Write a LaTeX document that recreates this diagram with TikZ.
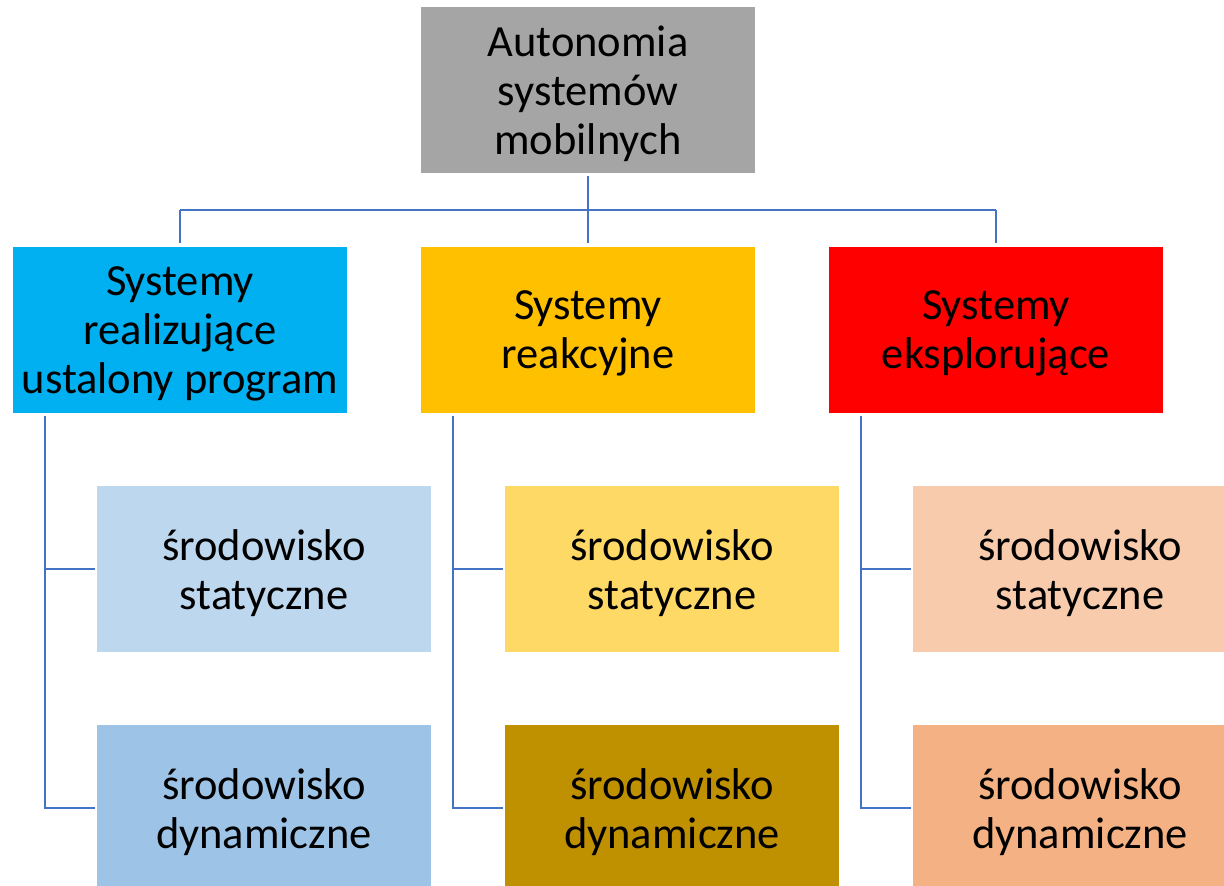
\documentclass[tikz,border=0pt]{standalone}
\usepackage{fontspec}
\setmainfont{Carlito}
\begin{document}
\begin{tikzpicture}[x=1pt,y=-1pt,
  boxtext/.style={inner sep=0pt,align=center,
    font=\fontsize{44.5}{49}\selectfont,text=black,yshift=-4pt},
  box/.style={minimum width=334pt,minimum height=166pt,inner sep=0pt,
    label={[boxtext]center:{#1}}},
  conn/.style={draw=linkblue,line width=2.6pt}]
\definecolor{linkblue}{HTML}{4472C4}
\definecolor{cgray}{HTML}{A5A5A5}
\definecolor{cblue}{HTML}{00B0F0}
\definecolor{corange}{HTML}{FFC000}
\definecolor{cred}{HTML}{FF0000}
\definecolor{cblueA}{HTML}{BDD7EE}
\definecolor{cblueB}{HTML}{9DC3E6}
\definecolor{cgoldA}{HTML}{FFD966}
\definecolor{cgoldB}{HTML}{BF9000}
\definecolor{cpeachA}{HTML}{F8CBAD}
\definecolor{cpeachB}{HTML}{F4B183}
\useasboundingbox (0,0) rectangle (1224,886);
\clip (0,0) rectangle (1224,886);

% root
\node[box={Autonomia\\systemów\\mobilnych},fill=cgray] (root) at (588,90) {};

% second level
\node[box={Systemy\\realizujące\\ustalony program},fill=cblue] (s1) at (180,329.5) {};
\node[box={Systemy\\reakcyjne},fill=corange] (s2) at (588,329.5) {};
\node[box={Systemy\\eksplorujące},fill=cred] (s3) at (996,329.5) {};

% third level
\node[box={środowisko\\statyczne},fill=cblueA]   (a1) at (264,569) {};
\node[box={środowisko\\dynamiczne},fill=cblueB]  (b1) at (264,808) {};
\node[box={środowisko\\statyczne},fill=cgoldA]   (a2) at (672,569) {};
\node[box={środowisko\\dynamiczne},fill=cgoldB]  (b2) at (672,808) {};
\node[box={środowisko\\statyczne},fill=cpeachA]  (a3) at (1080,569) {};
\node[box={środowisko\\dynamiczne},fill=cpeachB] (b3) at (1080,808) {};

% bus from root to second level
\coordinate (bus) at (588,210);
\draw[conn,shorten <=3pt] (root.south) -- (bus);
\draw[conn] (bus -| s1) -- (bus -| s3);
\foreach \n in {s1,s2,s3}
  \draw[conn,shorten >=3pt] (bus -| \n) -- (\n.north);

% spines to third level
\foreach \p/\a/\b in {s1/a1/b1,s2/a2/b2,s3/a3/b3}{
  \coordinate (sp\p) at ([xshift=32pt,yshift=-3pt]\p.south west);
  \draw[conn,shorten >=2pt] (sp\p) |- (\b.west);
  \draw[conn,shorten >=2pt] (sp\p |- \a.west) -- (\a.west);
}
\end{tikzpicture}
\end{document}
